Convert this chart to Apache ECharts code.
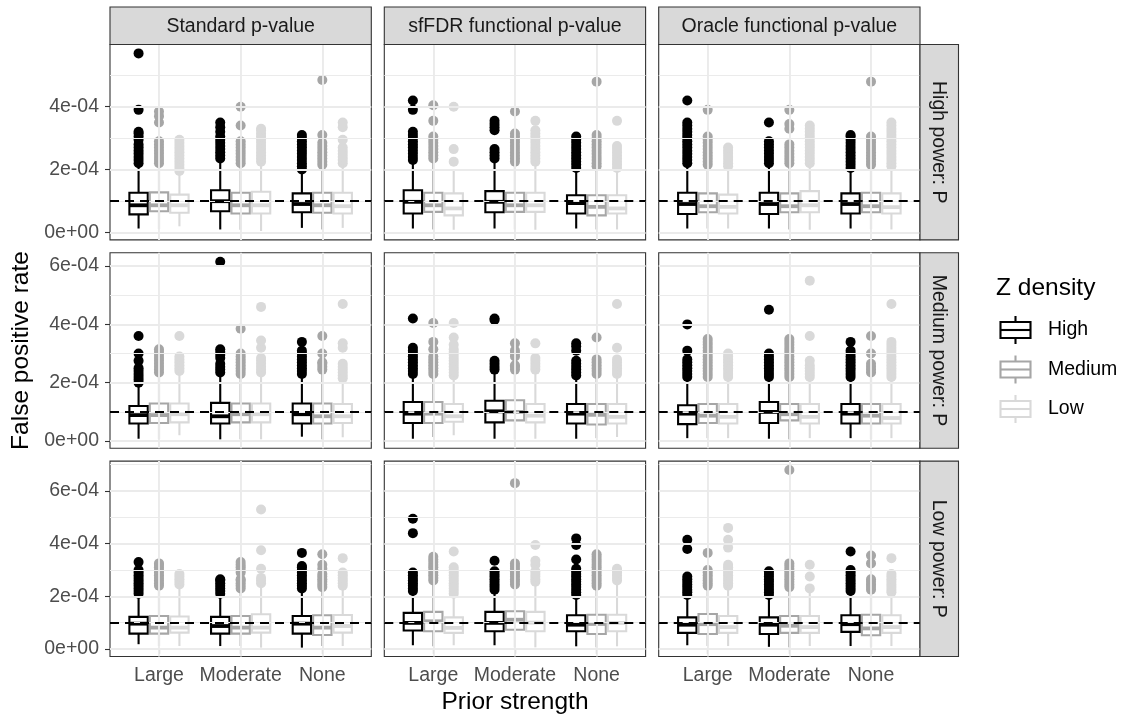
<!DOCTYPE html>
<html>
<head>
<meta charset="utf-8">
<title>False positive rate by prior strength</title>
<script src="https://cdn.jsdelivr.net/npm/echarts@6/dist/echarts.min.js"></script>
<style>
  html, body { margin: 0; padding: 0; background: #ffffff; }
  #chart { width: 1122px; height: 719px; }
</style>
</head>
<body>
<div id="chart"></div>
<script>
// ---- facet labels and categories ----
const methods = ['Standard p-value', 'sfFDR functional p-value', 'Oracle functional p-value'];
const powers = ['High power: P', 'Medium power: P', 'Low power: P'];
const priors = ['Large', 'Moderate', 'None'];
const densities = ['High', 'Medium', 'Low'];
const yTickValues = [0, 2, 4, 6];          // in units of 1e-4

// ---- five-number summaries [lower whisker, Q1, median, Q3, upper whisker], units of 1e-4
// order inside a panel: Large(High, Medium, Low), Moderate(...), None(...)
const box_hp_std = [
  [0.12, 0.57, 0.86, 1.26, 2.15], [0.09, 0.67, 0.86, 1.27, 2.15], [0.19, 0.62, 0.86, 1.20, 1.90],
  [0.09, 0.67, 0.99, 1.34, 2.30], [0.08, 0.60, 0.86, 1.26, 2.15], [0.04, 0.60, 0.86, 1.29, 2.20],
  [0.14, 0.64, 0.90, 1.24, 1.95], [0.09, 0.62, 0.86, 1.26, 2.10], [0.14, 0.60, 0.83, 1.26, 2.15]
];
const box_hp_sf = [
  [0.12, 0.60, 0.97, 1.34, 2.25], [0.09, 0.65, 0.86, 1.26, 2.30], [0.08, 0.54, 0.76, 1.24, 2.00],
  [0.12, 0.64, 0.97, 1.31, 2.30], [0.09, 0.65, 0.86, 1.26, 2.20], [0.08, 0.65, 0.86, 1.26, 2.20],
  [0.12, 0.60, 0.93, 1.18, 2.00], [0.09, 0.54, 0.81, 1.18, 2.05], [0.09, 0.60, 0.76, 1.18, 2.00]
];
const box_hp_or = [
  [0.12, 0.58, 0.90, 1.26, 2.15], [0.12, 0.64, 0.83, 1.24, 2.10], [0.12, 0.60, 0.81, 1.20, 2.05],
  [0.12, 0.58, 0.90, 1.26, 2.15], [0.09, 0.64, 0.83, 1.24, 2.15], [0.08, 0.64, 0.86, 1.31, 2.15],
  [0.12, 0.60, 0.90, 1.24, 2.00], [0.09, 0.64, 0.83, 1.26, 2.10], [0.09, 0.60, 0.80, 1.24, 2.05]
];
const box_mp_std = [
  [0.08, 0.60, 0.89, 1.20, 1.95], [0.06, 0.62, 0.89, 1.29, 2.30], [0.20, 0.64, 0.92, 1.29, 2.30],
  [0.06, 0.60, 0.85, 1.31, 2.30], [0.06, 0.64, 0.92, 1.29, 2.25], [0.06, 0.64, 0.92, 1.29, 2.30],
  [0.15, 0.60, 0.92, 1.29, 2.25], [0.06, 0.60, 0.85, 1.29, 2.40], [0.13, 0.62, 0.85, 1.27, 2.10]
];
const box_mp_sf = [
  [0.08, 0.62, 0.94, 1.34, 2.25], [0.14, 0.62, 0.94, 1.34, 2.25], [0.20, 0.66, 0.85, 1.27, 2.20],
  [0.08, 0.64, 1.02, 1.38, 2.40], [0.06, 0.71, 1.00, 1.40, 2.40], [0.08, 0.64, 0.87, 1.27, 2.40],
  [0.08, 0.60, 0.94, 1.27, 2.20], [0.10, 0.57, 0.90, 1.27, 2.25], [0.14, 0.60, 0.83, 1.27, 2.20]
];
const box_mp_or = [
  [0.10, 0.58, 0.94, 1.23, 2.15], [0.10, 0.62, 0.87, 1.27, 2.15], [0.10, 0.60, 0.83, 1.27, 2.15],
  [0.08, 0.62, 1.00, 1.34, 2.15], [0.06, 0.71, 0.92, 1.27, 2.15], [0.10, 0.60, 0.83, 1.27, 2.15],
  [0.10, 0.60, 0.94, 1.27, 2.15], [0.06, 0.60, 0.87, 1.27, 2.30], [0.10, 0.60, 0.79, 1.27, 2.15]
];
const box_lp_std = [
  [0.18, 0.58, 0.96, 1.22, 2.05], [0.11, 0.58, 0.81, 1.25, 2.35], [0.11, 0.62, 0.81, 1.23, 2.40],
  [0.11, 0.58, 0.87, 1.22, 2.05], [0.11, 0.58, 0.81, 1.25, 2.25], [0.05, 0.62, 0.81, 1.32, 2.40],
  [0.05, 0.58, 0.96, 1.25, 2.25], [0.11, 0.53, 0.81, 1.28, 2.30], [0.11, 0.62, 0.87, 1.29, 2.30]
];
const box_lp_sf = [
  [0.14, 0.70, 0.99, 1.37, 2.15], [0.10, 0.67, 1.05, 1.41, 2.50], [0.14, 0.61, 0.80, 1.20, 2.05],
  [0.14, 0.67, 0.99, 1.41, 2.20], [0.06, 0.73, 1.11, 1.43, 2.40], [0.06, 0.67, 1.00, 1.41, 2.50],
  [0.10, 0.67, 0.92, 1.28, 2.00], [0.06, 0.57, 0.95, 1.30, 2.35], [0.10, 0.67, 0.99, 1.30, 2.50]
];
const box_lp_or = [
  [0.14, 0.61, 0.92, 1.20, 2.00], [0.11, 0.57, 0.94, 1.33, 2.30], [0.11, 0.61, 0.83, 1.25, 2.30],
  [0.08, 0.57, 0.92, 1.20, 2.00], [0.06, 0.61, 0.88, 1.25, 2.30], [0.11, 0.61, 0.83, 1.25, 2.20],
  [0.11, 0.65, 0.94, 1.28, 2.15], [0.08, 0.52, 0.78, 1.30, 2.20], [0.11, 0.61, 0.83, 1.28, 2.10]
];

// ---- outlying runs, same order as the summaries (units of 1e-4)
const out_hp_std = [
  [2.2, 2.3, 2.4, 2.5, 2.6, 2.7, 2.8, 2.95, 3.05, 3.15, 3.2, 3.9, 5.7],
  [2.2, 2.3, 2.4, 2.5, 2.6, 2.7, 2.8, 2.9, 3.5, 3.7, 3.85],
  [1.95, 2.05, 2.15, 2.25, 2.35, 2.45, 2.55, 2.65, 2.75, 2.85, 2.95],
  [2.35, 2.45, 2.55, 2.65, 2.75, 2.85, 2.95, 3.05, 3.2, 3.35, 3.5],
  [2.2, 2.3, 2.4, 2.5, 2.6, 2.7, 2.8, 2.9, 3.4, 4.0],
  [2.25, 2.35, 2.45, 2.55, 2.65, 2.75, 2.85, 2.95, 3.05, 3.15, 3.25, 3.3],
  [2.0, 2.1, 2.2, 2.3, 2.4, 2.5, 2.6, 2.7, 2.8, 2.9, 3.0, 3.1],
  [2.15, 2.25, 2.35, 2.45, 2.55, 2.65, 2.75, 2.85, 3.1, 4.85],
  [2.2, 2.3, 2.4, 2.5, 2.6, 2.7, 2.95, 3.35, 3.5]
];
const out_hp_sf = [
  [2.3, 2.4, 2.5, 2.6, 2.7, 2.8, 2.9, 3.0, 3.1, 3.2, 3.9, 4.2],
  [2.35, 2.45, 2.55, 2.65, 2.75, 2.85, 2.95, 3.05, 3.55, 4.05],
  [2.25, 2.65, 4.0],
  [2.35, 2.45, 2.55, 2.65, 3.25, 3.35, 3.45, 3.55],
  [2.25, 2.35, 2.45, 2.55, 2.65, 2.75, 2.85, 2.95, 3.05, 3.15, 3.85],
  [2.25, 2.35, 2.45, 2.55, 2.65, 2.75, 2.85, 2.95, 3.05, 3.15, 3.25, 3.55],
  [2.05, 2.15, 2.25, 2.35, 2.45, 2.55, 2.65, 2.75, 2.85, 2.95, 3.05],
  [2.1, 2.2, 2.3, 2.4, 2.5, 2.6, 2.7, 2.8, 2.9, 3.0, 3.1, 4.8],
  [2.05, 2.15, 2.25, 2.35, 2.45, 2.55, 2.65, 2.75, 3.55]
];
const out_hp_or = [
  [2.2, 2.3, 2.4, 2.5, 2.6, 2.7, 2.8, 2.9, 3.0, 3.1, 3.2, 3.3, 3.4, 3.5, 4.2],
  [2.15, 2.25, 2.35, 2.45, 2.55, 2.65, 2.75, 2.85, 2.95, 3.05, 3.9],
  [2.1, 2.2, 2.3, 2.4, 2.5, 2.6, 2.7],
  [2.2, 2.3, 2.4, 2.5, 2.6, 2.7, 2.8, 2.9, 3.5],
  [2.2, 2.3, 2.4, 2.5, 2.6, 2.7, 2.8, 3.3, 3.45, 3.9],
  [2.2, 2.3, 2.4, 2.5, 2.6, 2.7, 2.8, 2.9, 3.0, 3.1, 3.2, 3.3, 3.4],
  [2.05, 2.15, 2.25, 2.35, 2.45, 2.55, 2.65, 2.75, 2.85, 2.95, 3.05, 3.1],
  [2.15, 2.25, 2.35, 2.45, 2.55, 2.65, 2.75, 2.85, 2.95, 3.05, 4.8],
  [2.1, 2.2, 2.3, 2.4, 2.5, 2.6, 2.7, 2.8, 2.9, 3.0, 3.1, 3.2, 3.3, 3.4, 3.5]
];
const out_mp_std = [
  [2.0, 2.1, 2.2, 2.3, 2.4, 2.5, 2.75, 3.0, 3.6],
  [2.35, 2.45, 2.55, 2.65, 2.75, 2.85, 2.95, 3.05, 3.15],
  [2.4, 2.5, 2.6, 2.7, 2.8, 2.9, 3.6],
  [2.35, 2.45, 2.55, 2.65, 2.85, 2.95, 3.05, 3.15, 6.15],
  [2.3, 2.4, 2.5, 2.6, 2.7, 2.8, 2.9, 3.0, 3.85],
  [2.35, 2.45, 2.55, 2.65, 2.75, 2.85, 3.2, 3.45, 4.6],
  [2.3, 2.4, 2.5, 2.6, 2.7, 2.8, 2.9, 3.0, 3.1, 3.4],
  [2.45, 2.55, 2.65, 2.7, 3.0, 3.6],
  [2.15, 2.25, 2.35, 2.45, 2.55, 2.65, 3.2, 3.35, 4.7]
];
const out_mp_sf = [
  [2.3, 2.4, 2.5, 2.6, 2.7, 2.8, 2.9, 3.0, 3.1, 3.2, 4.2],
  [2.3, 2.4, 2.5, 2.6, 2.7, 2.8, 2.9, 3.15, 3.4, 4.05],
  [2.25, 2.35, 2.45, 2.55, 2.65, 2.75, 2.85, 2.95, 3.05, 3.15, 3.3, 3.55, 4.05],
  [2.45, 2.55, 2.65, 2.75, 4.15, 4.2],
  [2.45, 2.55, 2.6, 2.9, 3.0, 3.1, 3.35],
  [2.45, 2.55, 2.65, 2.75, 2.85, 3.35],
  [2.25, 2.35, 2.45, 2.55, 2.65, 2.75, 3.1, 3.25, 3.35],
  [2.3, 2.4, 2.5, 2.6, 2.7, 2.8, 3.55],
  [2.3, 2.4, 2.5, 2.6, 2.7, 2.8, 3.2, 4.7]
];
const out_mp_or = [
  [2.2, 2.3, 2.4, 2.5, 2.6, 2.7, 2.8, 3.1, 4.0],
  [2.2, 2.3, 2.4, 2.5, 2.6, 2.7, 2.8, 2.9, 3.0, 3.1, 3.2, 3.3, 3.4, 3.5],
  [2.2, 2.3, 2.4, 2.5, 2.6, 2.7, 2.8, 2.9, 3.0],
  [2.2, 2.3, 2.4, 2.5, 2.6, 2.7, 2.8, 2.9, 3.0, 4.5],
  [2.2, 2.3, 2.4, 2.5, 2.6, 2.7, 2.8, 2.9, 3.0, 3.1, 3.2, 3.3, 3.4, 3.5],
  [2.2, 2.3, 2.4, 2.5, 2.6, 2.75, 3.6, 5.5],
  [2.2, 2.3, 2.4, 2.5, 2.6, 2.7, 2.8, 2.9, 3.0, 3.1, 3.4],
  [2.35, 2.45, 2.55, 2.65, 3.0, 3.6],
  [2.2, 2.3, 2.4, 2.5, 2.6, 2.7, 2.8, 2.9, 3.0, 3.1, 3.2, 3.3, 3.4, 4.7]
];
const out_lp_std = [
  [2.1, 2.2, 2.3, 2.4, 2.5, 2.6, 2.7, 2.8, 2.9, 3.0, 3.3],
  [2.4, 2.5, 2.6, 2.7, 2.8, 2.9, 3.0, 3.1, 3.2, 3.25],
  [2.45, 2.55, 2.65, 2.75, 2.85],
  [2.1, 2.2, 2.3, 2.4, 2.5, 2.6, 2.65],
  [2.3, 2.4, 2.5, 2.6, 2.65, 2.9, 3.0, 3.1, 3.2, 3.3],
  [2.5, 2.6, 2.7, 3.05, 3.75, 5.3],
  [2.3, 2.4, 2.5, 2.6, 2.7, 2.8, 2.9, 3.0, 3.1, 3.15, 3.65],
  [2.35, 2.45, 2.55, 2.65, 2.75, 2.85, 3.05, 3.2, 3.6],
  [2.4, 2.5, 2.6, 2.7, 2.8, 2.9, 3.45]
];
const out_lp_sf = [
  [2.2, 2.3, 2.4, 2.5, 2.6, 2.7, 2.8, 2.9, 4.4, 4.95],
  [2.6, 2.7, 2.8, 2.9, 3.0, 3.1, 3.2, 3.3, 3.4, 3.5],
  [2.1, 2.2, 2.3, 2.4, 2.5, 2.6, 2.7, 2.8, 2.9, 3.0, 3.1, 3.7],
  [2.25, 2.35, 2.45, 2.55, 2.65, 2.75, 2.85, 2.95, 3.35],
  [2.45, 2.55, 2.65, 2.75, 2.85, 2.95, 3.05, 3.15, 3.25, 6.3],
  [2.55, 2.65, 2.75, 2.85, 2.95, 3.2, 3.35, 3.95],
  [2.05, 2.15, 2.25, 2.35, 2.45, 2.55, 2.65, 2.75, 2.85, 2.95, 3.05, 3.4, 3.95, 4.2],
  [2.4, 2.5, 2.6, 2.7, 2.8, 2.9, 3.0, 3.1, 3.2, 3.3, 3.4, 3.5, 3.6],
  [2.6, 2.7, 2.8, 2.9, 3.0, 3.05]
];
const out_lp_or = [
  [2.05, 2.15, 2.25, 2.35, 2.45, 2.55, 2.65, 2.75, 3.8, 4.15],
  [2.4, 2.5, 2.6, 2.7, 2.8, 2.9, 3.0, 3.65],
  [2.4, 2.5, 2.6, 2.7, 2.8, 2.9, 3.0, 3.1, 3.2, 3.85, 4.15, 4.6],
  [2.05, 2.15, 2.25, 2.35, 2.45, 2.55, 2.65, 2.75, 2.85, 2.95],
  [2.35, 2.45, 2.55, 2.65, 2.75, 2.85, 2.95, 3.05, 3.15, 3.25, 6.8],
  [2.3, 2.75, 3.2],
  [2.2, 2.3, 2.4, 2.5, 2.6, 2.7, 2.8, 2.9, 3.0, 3.7],
  [2.25, 2.35, 2.45, 2.55, 2.65, 3.25, 3.55],
  [2.15, 2.25, 2.35, 2.45, 2.55, 2.65, 2.75, 2.85, 3.45]
];
const referenceLevel = 1;   // nominal rate 1e-04

// rows = power, columns = method
const panelBoxes = [
  [box_hp_std, box_hp_sf, box_hp_or],
  [box_mp_std, box_mp_sf, box_mp_or],
  [box_lp_std, box_lp_sf, box_lp_or]
];
const panelOutliers = [
  [out_hp_std, out_hp_sf, out_hp_or],
  [out_mp_std, out_mp_sf, out_mp_or],
  [out_lp_std, out_lp_sf, out_lp_or]
];

// ---- styling / layout ----
const FONT = '"Liberation Sans", Arial, Helvetica, sans-serif';
const densityColors = ['#000000', '#A6A6A6', '#D9D9D9'];
const colLeft = [110, 384.3, 658.7];
const rowTop = [44.5, 252.8, 461.1];
const panelW = 261.3, panelH = 195.4;
const stripTop = 7, stripH = 37.5, stripRightW = 38.5;
const DODGE = 0.25, BOX_W = 0.225;
const TICK_FONT = 19.5, TITLE_FONT = 24.5;
const LINE_W = 2.1, MEDIAN_W = 3.8, POINT_SIZE = 10;

function sciLabel(v) {
  if (v === 0) return '0e+00';
  const val = v * 1e-4;
  const e = Math.floor(Math.log10(Math.abs(val)) + 1e-9);
  const m = Math.round(val / Math.pow(10, e) * 100) / 100;
  return m + 'e' + (e < 0 ? '-' : '+') + String(Math.abs(e)).padStart(2, '0');
}

// y range per row (free scales), 5% padding around the data
const rowRanges = panelBoxes.map((row, r) => {
  let lo = Infinity, hi = -Infinity;
  row.forEach((boxes, c) => {
    boxes.forEach((b, i) => {
      lo = Math.min(lo, b[0]); hi = Math.max(hi, b[4]);
      panelOutliers[r][c][i].forEach(v => { lo = Math.min(lo, v); hi = Math.max(hi, v); });
    });
  });
  const pad = (hi - lo) * 0.05;
  return [lo - pad, hi + pad];
});

function renderBox(params, api) {
  const x = api.value(0);
  const color = densityColors[api.value(6)];
  const half = api.size([BOX_W, 0])[0] / 2;
  const pLo = api.coord([x, api.value(1)]);
  const pQ1 = api.coord([x, api.value(2)]);
  const pMed = api.coord([x, api.value(3)]);
  const pQ3 = api.coord([x, api.value(4)]);
  const pHi = api.coord([x, api.value(5)]);
  return {
    type: 'group',
    children: [
      { type: 'line', shape: { x1: pLo[0], y1: pLo[1], x2: pQ1[0], y2: pQ1[1] }, style: { stroke: color, lineWidth: LINE_W } },
      { type: 'line', shape: { x1: pQ3[0], y1: pQ3[1], x2: pHi[0], y2: pHi[1] }, style: { stroke: color, lineWidth: LINE_W } },
      { type: 'rect', shape: { x: pQ3[0] - half, y: pQ3[1], width: 2 * half, height: pQ1[1] - pQ3[1] },
        style: { fill: '#ffffff', stroke: color, lineWidth: LINE_W } },
      { type: 'line', shape: { x1: pMed[0] - half, y1: pMed[1], x2: pMed[0] + half, y2: pMed[1] },
        style: { stroke: color, lineWidth: MEDIAN_W } }
    ]
  };
}

const grids = [], xAxes = [], yAxes = [], series = [];
for (let r = 0; r < 3; r++) {
  for (let c = 0; c < 3; c++) {
    const idx = r * 3 + c;
    const [ymin, ymax] = rowRanges[r];
    const ticks = yTickValues.filter(v => v >= ymin && v <= ymax);
    grids.push({
      left: colLeft[c], top: rowTop[r], width: panelW, height: panelH,
      show: true, backgroundColor: '#ffffff', borderColor: '#333333', borderWidth: 1.1
    });
    const bottom = r === 2, left = c === 0;
    xAxes.push({
      type: 'value', gridIndex: idx, min: 0.4, max: 3.6,
      axisLine: { show: false },
      splitLine: { show: false },
      axisTick: { show: bottom, customValues: [1, 2, 3], length: 5, lineStyle: { color: '#333333', width: 1.1 } },
      axisLabel: {
        show: bottom, customValues: [1, 2, 3], margin: 9,
        formatter: v => priors[Math.round(v) - 1],
        color: '#4D4D4D', fontSize: TICK_FONT, fontFamily: FONT
      }
    });
    yAxes.push({
      type: 'value', gridIndex: idx, min: ymin, max: ymax,
      axisLine: { show: false },
      splitLine: { show: false },
      axisTick: { show: left, customValues: ticks, length: 5, lineStyle: { color: '#333333', width: 1.1 } },
      axisLabel: {
        show: left, customValues: ticks, margin: 11,
        formatter: v => sciLabel(v),
        color: '#4D4D4D', fontSize: TICK_FONT, fontFamily: FONT
      }
    });

    // background grid: major and minor y lines, x lines at the categories
    const gridLines = [];
    for (let v = 0; v <= ymax; v += 1) {
      if (v < ymin) continue;
      gridLines.push({ yAxis: v, lineStyle: { width: v % 2 === 0 ? 1.9 : 1.0 } });
    }
    [1, 2, 3].forEach(v => gridLines.push({ xAxis: v, lineStyle: { width: 1.9 } }));
    series.push({
      type: 'scatter', xAxisIndex: idx, yAxisIndex: idx, data: [], z: 1, silent: true,
      markLine: {
        silent: true, symbol: 'none', animation: false,
        label: { show: false },
        lineStyle: { color: '#EBEBEB', type: 'solid' },
        data: gridLines
      }
    });

    // outliers, one series per density level
    const boxes = panelBoxes[r][c];
    const outs = panelOutliers[r][c];
    for (let d = 0; d < 3; d++) {
      const pts = [];
      for (let p = 0; p < 3; p++) {
        const i = p * 3 + d;
        const x = p + 1 + (d - 1) * DODGE;
        outs[i].forEach(v => pts.push([x, v]));
      }
      series.push({
        type: 'scatter', name: densities[d], xAxisIndex: idx, yAxisIndex: idx, z: 2,
        symbolSize: POINT_SIZE, itemStyle: { color: densityColors[d], opacity: 1 }, silent: true,
        data: pts
      });
    }

    // boxes
    const boxData = boxes.map((b, i) => {
      const p = Math.floor(i / 3), d = i % 3;
      return [p + 1 + (d - 1) * DODGE, b[0], b[1], b[2], b[3], b[4], d];
    });
    series.push({
      type: 'custom', xAxisIndex: idx, yAxisIndex: idx, z: 3, silent: true,
      renderItem: renderBox,
      encode: { x: 0, y: [1, 2, 3, 4, 5] },
      data: boxData
    });

    // nominal level reference line
    series.push({
      type: 'scatter', xAxisIndex: idx, yAxisIndex: idx, data: [], z: 5, silent: true,
      markLine: {
        silent: true, symbol: 'none', animation: false,
        label: { show: false },
        lineStyle: { color: '#000000', width: 2, type: [9, 6] },
        data: [{ yAxis: referenceLevel }]
      }
    });
  }
}

// ---- strips, axis titles and legend ----
const graphics = [];
methods.forEach((m, c) => {
  graphics.push({
    type: 'rect', shape: { x: colLeft[c], y: stripTop, width: panelW, height: stripH },
    style: { fill: '#D9D9D9', stroke: '#333333', lineWidth: 1.1 }, z: 10
  });
  graphics.push({
    type: 'text', x: colLeft[c] + panelW / 2, y: stripTop + stripH / 2 + 0.5, z: 11,
    style: { text: m, fill: '#1A1A1A', font: `${TICK_FONT}px ${FONT}`, align: 'center', verticalAlign: 'middle' }
  });
});
const stripX = colLeft[2] + panelW;
powers.forEach((p, r) => {
  graphics.push({
    type: 'rect', shape: { x: stripX, y: rowTop[r], width: stripRightW, height: panelH },
    style: { fill: '#D9D9D9', stroke: '#333333', lineWidth: 1.1 }, z: 10
  });
  graphics.push({
    type: 'text', x: stripX + stripRightW / 2 - 0.5, y: rowTop[r] + panelH / 2, rotation: -Math.PI / 2, z: 11,
    style: { text: p, fill: '#1A1A1A', font: `${TICK_FONT}px ${FONT}`, align: 'center', verticalAlign: 'middle' }
  });
});
graphics.push({
  type: 'text', x: colLeft[0] + (colLeft[2] + panelW - colLeft[0]) / 2, y: 702,
  style: { text: 'Prior strength', fill: '#000000', font: `${TITLE_FONT}px ${FONT}`, align: 'center', verticalAlign: 'middle' }
});
graphics.push({
  type: 'text', x: 21, y: rowTop[0] + (rowTop[2] + panelH - rowTop[0]) / 2, rotation: Math.PI / 2,
  style: { text: 'False positive rate', fill: '#000000', font: `${TITLE_FONT}px ${FONT}`, align: 'center', verticalAlign: 'middle' }
});
graphics.push({
  type: 'text', x: 996, y: 288,
  style: { text: 'Z density', fill: '#000000', font: `${TITLE_FONT}px ${FONT}`, align: 'left', verticalAlign: 'middle' }
});
const keyY = [330, 369.5, 409];
densities.forEach((d, i) => {
  const cx = 1015.5, cy = keyY[i], col = densityColors[i];
  graphics.push({ type: 'line', shape: { x1: cx, y1: cy - 14, x2: cx, y2: cy + 14 }, style: { stroke: col, lineWidth: LINE_W } });
  graphics.push({ type: 'rect', shape: { x: cx - 15, y: cy - 8, width: 30, height: 16 }, style: { fill: '#ffffff', stroke: col, lineWidth: LINE_W } });
  graphics.push({ type: 'line', shape: { x1: cx - 15, y1: cy, x2: cx + 15, y2: cy }, style: { stroke: col, lineWidth: LINE_W } });
  graphics.push({
    type: 'text', x: 1048, y: cy,
    style: { text: d, fill: '#000000', font: `${TICK_FONT}px ${FONT}`, align: 'left', verticalAlign: 'middle' }
  });
});

const chart = echarts.init(document.getElementById('chart'), null, { renderer: 'canvas' });
chart.setOption({
  animation: false,
  backgroundColor: '#ffffff',
  textStyle: { fontFamily: FONT },
  grid: grids,
  xAxis: xAxes,
  yAxis: yAxes,
  series: series,
  graphic: graphics
});
</script>
</body>
</html>
